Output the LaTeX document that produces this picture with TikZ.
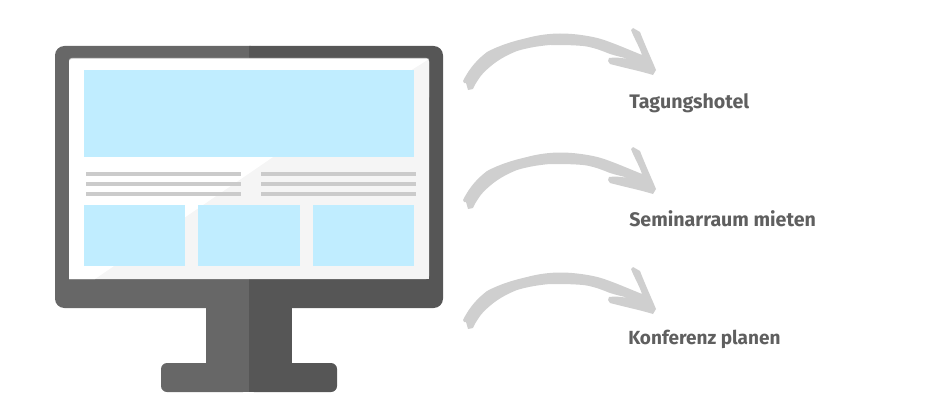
\documentclass[tikz,border=0pt]{standalone}
\usepackage{fontspec}
\setmainfont{Fira Sans}
\definecolor{darkL}{HTML}{676767}
\definecolor{darkR}{HTML}{565656}
\definecolor{sky}{HTML}{C0EDFF}
\definecolor{pale}{HTML}{F5F5F5}
\definecolor{rule}{HTML}{CBCBCB}
\definecolor{stroke}{HTML}{CFCFCF}
\definecolor{label}{HTML}{5F5F5F}
\tikzset{
  panel/.style={fill=sky,draw=none,inner sep=0pt,anchor=north west},
  textline/.style={fill=rule,draw=none},
  caption/.style={anchor=base west,text=label,font=\bfseries\fontsize{14.7}{17}\selectfont,inner sep=0pt},
  sketch/.style={fill=stroke,draw=none}
}
\newcommand{\sketcharrow}[1]{%
\begin{scope}[yshift=#1*-0.75pt]
 \fill[sketch] (463,81)
   .. controls (470,67) and (478,59) .. (487,52)
   .. controls (500,45) and (514,41) .. (527,38)
   .. controls (538,35) and (550,33.5) .. (560,33.5)
   .. controls (572,33.5) and (583,35) .. (593,37)
   .. controls (604,39) and (620,46) .. (642,55)
   .. controls (639,46) and (634,38) .. (631,30)
   -- (633,28) -- (640,32)
   .. controls (645,45) and (651,58) .. (656,70)
   -- (653,75)
   .. controls (640,71) and (625,68) .. (610,64)
   -- (608,61) -- (609,58)
   .. controls (615,57) and (622,58) .. (628,59)
   .. controls (622,57) and (616,56) .. (610,54)
   .. controls (600,50) and (592,47) .. (583,46)
   .. controls (572,45) and (561,45) .. (550,45)
   .. controls (538,46) and (527,48) .. (517,51)
   .. controls (507,55) and (498,60) .. (491,66)
   .. controls (485,71) and (481,75) .. (478,80)
   .. controls (476,83) and (474,86) .. (473,89)
   -- (468,90) -- (466,83) -- (464,83) -- cycle;
\end{scope}}
\begin{document}
\begin{tikzpicture}[x=0.75pt,y=-0.75pt]
\useasboundingbox (0,0) rectangle (930,410);
% foot
\fill[darkL,rounded corners=4.5pt] (249,392) -- (161,392) -- (161,363) -- (249,363) -- cycle;
\fill[darkR,rounded corners=4.5pt] (248,392) -- (337,392) -- (337,363) -- (248,363) -- cycle;
\fill[darkL] (225,363) rectangle (248.5,392);
\fill[darkR] (248.5,363) rectangle (270,392);
% stand
\fill[darkL] (206,300) rectangle (249,364);
\fill[darkR] (249,300) rectangle (292,364);
% body
\fill[darkL,rounded corners=7pt] (260,308) -- (55,308) -- (55,46) -- (260,46) -- cycle;
\fill[darkR,rounded corners=7pt] (240,308) -- (443,308) -- (443,46) -- (240,46) -- cycle;
\fill[darkL] (200,46) rectangle (248.5,308);
\fill[darkR] (248.5,46) rectangle (300,308);
% screen
\fill[rule,rounded corners=2pt] (69,100) -- (69,58) -- (429,58) -- (429,100) -- cycle;
\fill[pale,rounded corners=2pt] (69,279) -- (69,59) -- (429,59) -- (429,279) [sharp corners] -- cycle;
\fill[pale] (69,100) rectangle (429,279);
\fill[white] (69,279) -- (69,63) .. controls (69,60) and (70,59) .. (73,59) -- (429,59) -- (273,157) -- (95,279) -- cycle;
% panels
\node[panel,minimum width=247.5pt,minimum height=65.25pt] (hero) at (84,70) {};
\node[panel,minimum width=75.75pt,minimum height=45.75pt] (p1) at (84,205) {};
\node[panel,minimum width=76.5pt,minimum height=45.75pt] (p2) at (198,205) {};
\node[panel,minimum width=75.75pt,minimum height=45.75pt] (p3) at (313,205) {};
% text lines
\foreach \yy in {172,182,192}{
  \fill[textline] (86,\yy) rectangle (241,\yy+4);
  \fill[textline] (261,\yy) rectangle (416,\yy+4);
}
% arrows
\sketcharrow{0}
\sketcharrow{119}
\sketcharrow{239}
% captions
\node[caption] (a) at (629,108) {Tagungshotel};
\node[caption] (b) at (629,226) {Seminarraum mieten};
\node[caption,font=\bfseries\fontsize{14.25}{17}\selectfont] (c) at (628,344) {Konferenz planen};
\end{tikzpicture}
\end{document}
